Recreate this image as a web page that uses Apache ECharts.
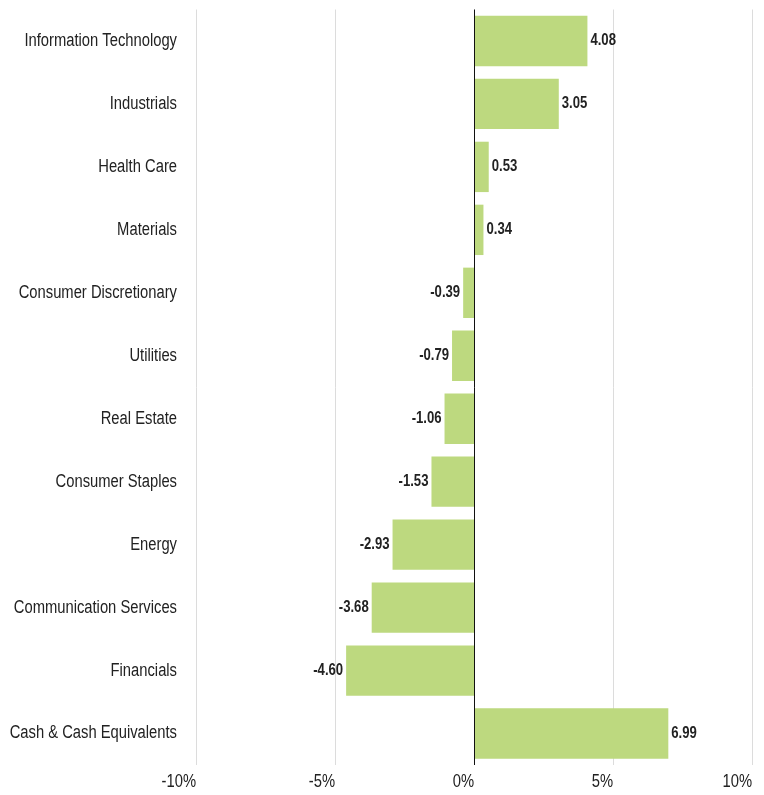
<!DOCTYPE html>
<html><head><meta charset="utf-8">
<script src="https://cdn.jsdelivr.net/npm/echarts@6/dist/echarts.min.js"></script>
<style>html,body{margin:0;padding:0;background:#fff}#c{width:764px;height:795px}</style>
</head><body><div id="c"></div>
<script>
var categories = ["Information Technology","Industrials","Health Care","Materials","Consumer Discretionary","Utilities","Real Estate","Consumer Staples","Energy","Communication Services","Financials","Cash & Cash Equivalents"];
var values = [4.08,3.05,0.53,0.34,-0.39,-0.79,-1.06,-1.53,-2.93,-3.68,-4.60,6.99];
var xTicks = [-10,-5,0,5,10];

var FONT = '"Liberation Sans",Arial,sans-serif';
var SX = 0.82;
var chart = echarts.init(document.getElementById('c'));
chart.setOption({
  animation:false,
  grid:{left:196,right:12,top:9.5,bottom:30,containLabel:false,outerBoundsMode:'none'},
  xAxis:{type:'value',min:xTicks[0],max:xTicks[xTicks.length-1],interval:5,
    axisLine:{show:false},axisTick:{show:false},axisLabel:{show:false},
    splitLine:{show:true,lineStyle:{width:1,color:'#dcdcdc'}}
  },
  yAxis:{type:'category',data:categories,inverse:true,
    axisLine:{show:false},axisTick:{show:false},axisLabel:{show:false}},
  series:[
    {type:'bar',barCategoryGap:'20%',itemStyle:{color:'#bdd97f'},data:values,
     markLine:{silent:true,symbol:'none',animation:false,label:{show:false},
       lineStyle:{color:'#111',width:1,type:'solid'},data:[{xAxis:0}]}},
    {type:'custom',clip:false,silent:true,
     data:values.map(function(v,i){return [v,i];}),encode:{x:0,y:1},
     renderItem:function(params,api){
       var i=params.dataIndex, v=api.value(0);
       var cs=params.coordSys;
       var p=api.coord([v,i]);
       var neg=v<0;
       return {type:'group',children:[
         {type:'text',x:cs.x-19,y:p[1],scaleX:SX,style:{text:categories[i],textAlign:'right',textVerticalAlign:'middle',
           font:'18px '+FONT,fill:'#222'}},
         {type:'text',x:p[0]+(neg?-3:3),y:p[1],scaleX:SX,style:{text:v.toFixed(2),textAlign:neg?'right':'left',textVerticalAlign:'middle',
           font:'bold 16px '+FONT,fill:'#222'}}
       ]};
     }},
    {type:'custom',clip:false,silent:true,
     data:xTicks.map(function(t){return [t,0];}),encode:{x:0,y:1},
     renderItem:function(params,api){
       var t=api.value(0), cs=params.coordSys;
       var p=api.coord([t,0]);
       return {type:'text',x:p[0],y:cs.y+cs.height+17,scaleX:SX,style:{text:t+'%',textAlign:'right',textVerticalAlign:'middle',
         font:'18px '+FONT,fill:'#222'}};
     }}
  ]
});
</script></body></html>
